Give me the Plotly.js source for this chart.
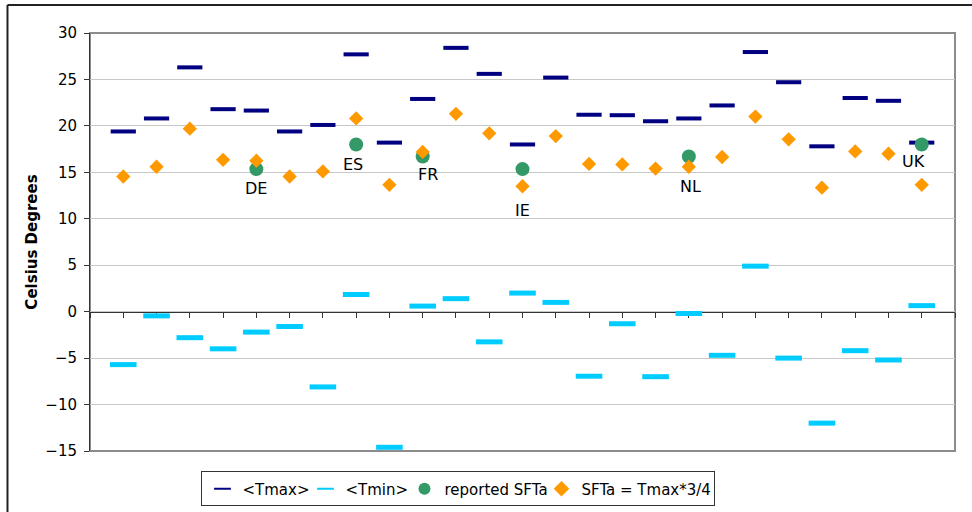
<!DOCTYPE html>
<html>
<head>
<meta charset="utf-8">
<script src="https://cdn.plot.ly/plotly-3.0.1.min.js"></script>
<style>
  html, body { margin: 0; padding: 0; background: #ffffff; }
  #chart { width: 972px; height: 512px; }
</style>
</head>
<body>
<div id="chart"></div>
<script>
// Station index along the horizontal axis
var stations = [1, 2, 3, 4, 5, 6, 7, 8, 9, 10, 11, 12, 13, 14, 15, 16, 17, 18, 19, 20, 21, 22, 23, 24, 25];

// Mean maximum temperature per station (°C)
var tmax = [19.4, 20.8, 26.3, 21.8, 21.65, 19.4, 20.1, 27.7, 18.2, 22.9, 28.4, 25.6, 18.0,
            25.2, 21.2, 21.15, 20.5, 20.8, 22.2, 27.95, 24.7, 17.8, 23.0, 22.7, 18.2];

// Mean minimum temperature per station (°C)
var tmin = [-5.7, -0.45, -2.8, -4.0, -2.2, -1.6, -8.1, 1.85, -14.6, 0.6, 1.4, -3.25, 2.0,
            1.0, -6.95, -1.3, -7.0, -0.2, -4.7, 4.9, -5.0, -12.0, -4.2, -5.2, 0.65];

// Estimated SFTa = Tmax*3/4 per station (°C)
var sftaEst = [14.55, 15.6, 19.7, 16.35, 16.25, 14.55, 15.1, 20.8, 13.65, 17.2, 21.3, 19.2, 13.5,
               18.9, 15.9, 15.85, 15.4, 15.6, 16.65, 21.0, 18.55, 13.35, 17.25, 17.0, 13.65];

// Reported SFTa by country
var reportedStations = [5, 8, 10, 13, 18, 25];
var reportedSfta = [15.35, 18.0, 16.7, 15.35, 16.7, 18.0];
var reportedCodes = ['DE', 'ES', 'FR', 'IE', 'NL', 'UK'];

// Label offsets (px) for the country codes
var labelShiftX = [0, -3, 5, 0, 2, -8];
var labelShiftY = [-19, -20, -18, -41, -30, -17];

var FONT = 'DejaVu Sans, Verdana, sans-serif';

var traces = [
  {
    name: '&lt;Tmax&gt;', x: stations, y: tmax, type: 'scatter', mode: 'markers', legendwidth: 58,
    marker: { symbol: 'line-ew', size: 18, color: '#000080', line: { color: '#000080', width: 4 } }
  },
  {
    name: '&lt;Tmin&gt;', x: stations, y: tmin, type: 'scatter', mode: 'markers', legendwidth: 54,
    marker: { symbol: 'line-ew', size: 19, color: '#00CCFF', line: { color: '#00CCFF', width: 5 } }
  },
  {
    name: 'reported SFTa', x: reportedStations, y: reportedSfta, type: 'scatter', mode: 'markers', legendwidth: 92,
    marker: { symbol: 'circle', size: 14, color: '#339966', line: { width: 0 } }
  },
  {
    name: 'SFTa = Tmax*3/4', x: stations, y: sftaEst, type: 'scatter', mode: 'markers', legendwidth: 128,
    marker: { symbol: 'diamond', size: 11, color: '#FF9900', line: { width: 0 } }
  }
];

var annotations = reportedCodes.map(function (code, i) {
  return {
    x: reportedStations[i], y: reportedSfta[i], xref: 'x', yref: 'y',
    text: code, showarrow: false, xshift: labelShiftX[i], yshift: labelShiftY[i],
    font: { family: FONT, size: 16, color: '#000000' }
  };
});

var layout = {
  width: 972, height: 512,
  margin: { l: 90, r: 17, t: 33, b: 61, pad: 0, autoexpand: false },
  paper_bgcolor: '#ffffff', plot_bgcolor: '#ffffff',
  font: { family: FONT, size: 15, color: '#000000' },
  showlegend: true,
  legend: {
    orientation: 'h', x: 0.426, y: -0.0909, xanchor: 'center', yanchor: 'middle',
    bordercolor: '#333333', borderwidth: 1, bgcolor: '#ffffff',
    font: { family: FONT, size: 15, color: '#000000' },
    itemsizing: 'constant', itemwidth: 30, tracegroupgap: 0
  },
  xaxis: {
    range: [0, 26], tick0: 0, dtick: 1, showgrid: false, zeroline: false,
    showticklabels: false, ticks: 'outside', ticklen: 5, tickcolor: '#333333',
    showline: true, linecolor: '#333333', linewidth: 1,
    anchor: 'free', position: 1 / 3, layer: 'below traces', fixedrange: true
  },
  yaxis: {
    range: [-15, 30], tick0: -15, dtick: 5, showgrid: true, gridcolor: '#c8c8c8', gridwidth: 1,
    zeroline: false, ticks: 'outside', ticklen: 5, tickcolor: '#333333',
    showline: true, linecolor: '#333333', linewidth: 1, layer: 'below traces',
    ticklabelstandoff: 4,
    tickfont: { family: FONT, size: 15, color: '#000000' },
    title: { text: '<b>Celsius Degrees</b>', font: { family: FONT, size: 15, color: '#000000' }, standoff: 4 },
    fixedrange: true
  },
  shapes: [
    // plot-area frame
    { type: 'rect', xref: 'paper', yref: 'paper', x0: 0, x1: 1, y0: 0, y1: 1,
      line: { color: '#8c8c8c', width: 2 }, layer: 'below' },
    // outer chart frame (left and top edges)
    { type: 'line', xref: 'paper', yref: 'paper', x0: -0.0954, x1: -0.0954, y0: -0.3, y1: 1.067,
      line: { color: '#222222', width: 2 } },
    { type: 'line', xref: 'paper', yref: 'paper', x0: -0.0954, x1: 1.2, y0: 1.067, y1: 1.067,
      line: { color: '#222222', width: 2 } }
  ],
  annotations: annotations
};

Plotly.newPlot('chart', traces, layout, { staticPlot: true, displayModeBar: false });
</script>
</body>
</html>
